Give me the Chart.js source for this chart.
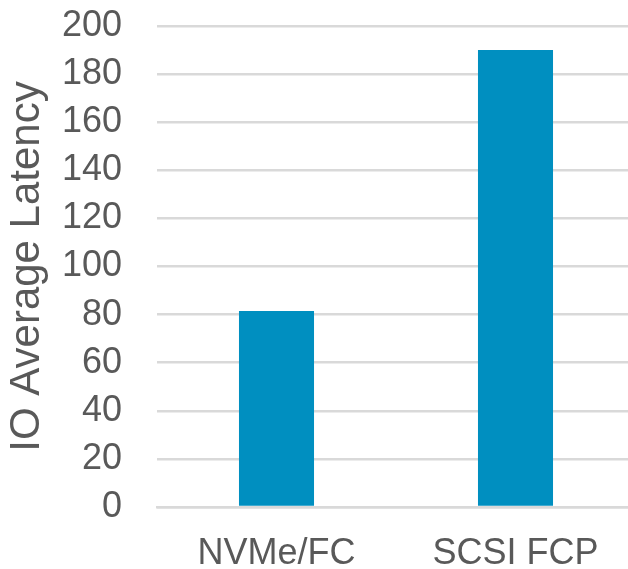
<!DOCTYPE html>
<html>
<head>
<meta charset="utf-8">
<script src="https://cdn.jsdelivr.net/npm/chart.js@4/dist/chart.umd.min.js"></script>
<style>
  html, body { margin: 0; padding: 0; background: #ffffff; overflow: hidden; }
  #wrap { width: 628px; height: 569px; overflow: hidden; position: relative; }
  #box { width: 635px; height: 569px; position: absolute; left: 0; top: 0; }
</style>
</head>
<body>
<div id="wrap"><div id="box"><canvas id="chart"></canvas></div></div>
<script>
// Average IO latency per protocol
const categories = ['NVMe/FC', 'SCSI FCP'];
const latency = [81.5, 190];
const yTicks = [0, 20, 40, 60, 80, 100, 120, 140, 160, 180, 200];
const yTitle = 'IO Average Latency';

const textColor = '#595959';
const gridColor = '#d9d9d9';
const barColor = '#008fc0';
const family = '"Liberation Sans", Arial, sans-serif';

new Chart(document.getElementById('chart'), {
  type: 'bar',
  data: {
    labels: categories,
    datasets: [{
      data: latency,
      backgroundColor: barColor,
      borderWidth: 0,
      barPercentage: 0.314,
      categoryPercentage: 1.0
    }]
  },
  options: {
    responsive: true,
    maintainAspectRatio: false,
    animation: false,
    layout: { padding: { left: 0, top: 26, right: 0, bottom: 0 } },
    plugins: { legend: { display: false }, tooltip: { enabled: false } },
    scales: {
      x: {
        grid: { display: false, drawTicks: false },
        border: { display: true, color: gridColor, width: 2.5 },
        ticks: {
          color: textColor,
          padding: 29,
          maxRotation: 0,
          font: { family, size: 36, lineHeight: 1 }
        },
        afterFit: (axis) => {
          axis.height = 62;
          axis.paddingLeft = 0;
          axis.paddingRight = 0;
        }
      },
      y: {
        min: 0,
        max: 200,
        afterBuildTicks: (axis) => { axis.ticks = yTicks.map(v => ({ value: v })); },
        grid: { color: gridColor, lineWidth: 2.5, drawTicks: false },
        border: { display: false },
        ticks: {
          color: textColor,
          padding: 35,
          font: { family, size: 36, lineHeight: 1 }
        },
        title: {
          display: true,
          text: yTitle,
          color: textColor,
          padding: { top: 6, bottom: 10 },
          font: { family, size: 42, lineHeight: 1 }
        },
        afterFit: (axis) => {
          axis.width = 157;
          axis.paddingTop = 0;
          axis.paddingBottom = 0;
        }
      }
    }
  }
});
</script>
</body>
</html>
